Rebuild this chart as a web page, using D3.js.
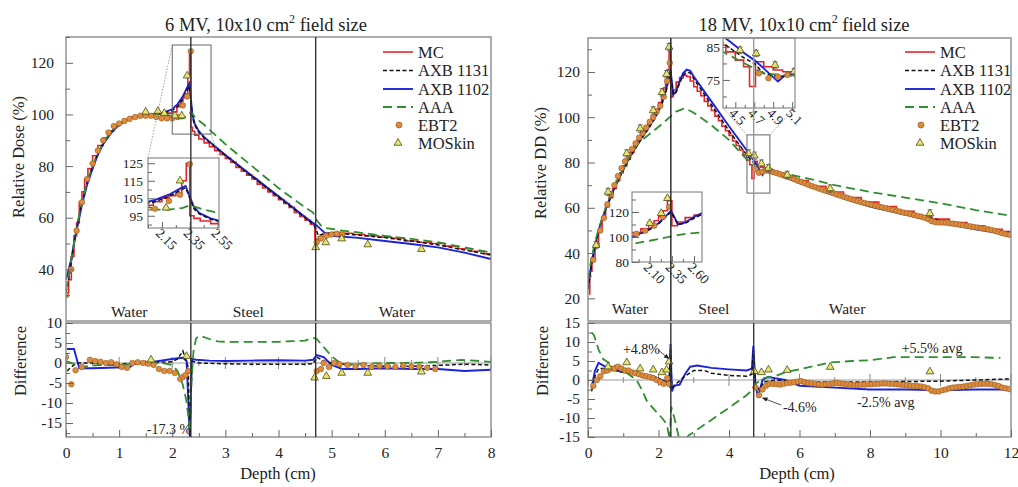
<!DOCTYPE html>
<html lang="en">
<head>
<meta charset="UTF-8">
<title>Depth dose through steel, 6 MV and 18 MV</title>
<script src="https://d3js.org/d3.v7.min.js"></script>
<style>
  body { margin: 0; background: #fff; }
  svg { display: block; font-family: "Liberation Serif", "DejaVu Serif", serif; }
</style>
</head>
<body>
<script>
// ------------------------------------
// Data (depth in cm, value)
// ------------------------------------
const interfaces = [2.35, 4.7];
const legendNames = ["MC", "AXB 1131", "AXB 1102", "AAA", "EBT2", "MOSkin"];

// ---- 6 MV, relative dose ----
const mc6 = [[0.025,31],[0.075,36],[0.125,45],[0.175,53],[0.225,58],[0.275,66],[0.325,70],[0.375,75],[0.45,79],[0.55,84],
  [0.65,88],[0.75,91],[0.85,93.5],[0.95,95.5],[1.05,97],[1.15,98],[1.25,99],[1.35,99.5],[1.45,100],[1.55,100],[1.65,100],
  [1.75,100.2],[1.85,100.2],[1.95,100.5],[2.05,101],[2.125,103],[2.175,105],[2.225,106.5],[2.275,108],[2.31,115],[2.34,125],
  [2.36,95],[2.4,93.5],[2.45,92],[2.55,90.5],[2.65,89],[2.75,87.5],[2.85,86],[2.95,84.5],[3.05,83],[3.15,81.5],[3.25,79.5],
  [3.35,78],[3.45,76.5],[3.55,75],[3.65,73],[3.75,71.5],[3.85,70],[3.95,68.5],[4.05,67],[4.15,65.5],[4.25,64],[4.35,62],
  [4.45,60.5],[4.55,59],[4.65,57.5],[4.72,51.5],[4.78,52.5],[4.85,53.5],[4.95,54],[5.1,54.3],[5.3,54],[5.5,53.5],[5.75,53],
  [6,52.5],[6.25,52],[6.5,51],[6.75,50.5],[7,50],[7.25,49],[7.5,48],[7.75,47],[8,46]];
const axb1131_6 = [[0,31],[0.05,36],[0.1,43],[0.15,50],[0.2,56],[0.3,66],[0.4,74],[0.5,80],[0.6,85],[0.7,89],[0.8,92],
  [0.9,94.5],[1.0,96.3],[1.2,98.5],[1.4,99.5],[1.6,100],[1.8,100.3],[2.0,101.5],[2.1,103],[2.2,106],[2.28,109.5],[2.32,111],
  [2.35,105],[2.38,99],[2.42,96],[2.5,93],[2.6,91],[3.0,84],[3.5,76],[4.0,68],[4.5,60],[4.65,57.5],[4.7,56],[4.75,53],
  [4.85,53.8],[5.0,54.2],[5.5,53.3],[6,52.3],[6.5,51],[7,49.5],[7.5,47.5],[8,45.5]];
const axb1102_6 = [[0,36],[0.05,40],[0.1,44],[0.15,50],[0.2,55],[0.3,65],[0.4,73],[0.5,79],[0.6,84.5],[0.7,88.5],[0.8,91.5],
  [0.9,94],[1.0,96],[1.2,98.3],[1.4,99.5],[1.6,100],[1.8,100.5],[2.0,102],[2.1,104],[2.2,107],[2.28,110.5],[2.32,112],
  [2.35,106],[2.38,100],[2.42,96.5],[2.5,93.5],[2.6,91.2],[3.0,84.3],[3.5,76.3],[4.0,68.3],[4.5,60.3],[4.65,58],[4.72,57],
  [4.8,55.5],[4.9,53.5],[5.1,52.8],[5.5,52.2],[6,51],[6.5,49.8],[7,48.5],[7.5,46.5],[8,44]];
const aaa6 = [[0,32],[0.05,37],[0.1,44],[0.2,56],[0.3,66],[0.4,74],[0.5,80],[0.6,85],[0.7,89],[0.8,92],[0.9,94.5],[1.0,96.3],
  [1.2,98.5],[1.4,99.5],[1.6,100],[1.8,100.2],[2.0,99.5],[2.1,98.5],[2.2,98.5],[2.3,99.5],[2.35,101],[2.45,98.5],[2.6,96],
  [3.0,88.5],[3.5,80],[4.0,71.5],[4.5,64],[4.65,62],[4.72,59],[4.8,57],[4.9,56],[5.2,55],[5.5,54.3],[6,53],[6.5,51.8],
  [7,50.5],[7.5,48.5],[8,46.5]];
const ebt2_6 = [[0,30],[0.1,40],[0.2,55],[0.3,66],[0.4,75],[0.5,81],[0.6,86],[0.7,90],[0.8,93],[0.9,95.5],[1.0,96.5],[1.1,97.5],
  [1.2,98.3],[1.3,99],[1.4,99.5],[1.5,99.5],[1.6,99.5],[1.7,99],[1.8,98.5],[1.9,98.5],[2.0,98.5],[2.1,99],[2.2,103.5],
  [2.28,107],[2.35,124.5],[4.72,50.5],[4.8,52],[4.9,53],[5.0,53.5],[5.1,53.8],[5.2,53.5]];
const mos6 = [[1.5,101],[1.73,101.3],[1.85,100.5],[2.05,99.5],[2.18,99.5],[2.28,115],[4.7,48.5],[4.89,50.4],[5.19,51.9],
  [5.68,49.6],[6.69,47.8]];

// ---- 6 MV, difference (%) ----
const axb1131Diff6 = [[0.02,-2],[0.1,-1],[0.2,0],[0.5,0],[1.0,-0.2],[1.5,0],[2.0,0.3],[2.1,1],[2.2,3],[2.25,1],[2.3,-1],
  [2.33,-18.5],[2.37,0.5],[2.5,0],[3.0,-0.2],[3.5,-0.3],[4.0,-0.3],[4.5,-0.3],[4.65,-0.2],[4.72,1.5],[4.85,0.5],[5.0,0],
  [5.5,-0.6],[6,-0.8],[6.5,-0.8],[7,-0.6],[7.5,-0.3],[8,-0.5]];
const axb1102Diff6 = [[0.02,3.5],[0.15,3.5],[0.25,-1.3],[0.5,-1.3],[0.8,-1.2],[1.2,-1],[1.3,0],[1.6,0.2],[1.9,0.8],[2.1,1.2],
  [2.2,1.3],[2.27,0.5],[2.33,-18.5],[2.37,1],[2.45,0.8],[2.7,0.6],[3.0,0.5],[3.5,0.6],[4.0,0.7],[4.5,0.6],[4.65,0.8],[4.72,2],
  [4.85,1.5],[5.0,-0.5],[5.2,-1.5],[5.5,-1.5],[6,-1.3],[6.5,-1.5],[7,-1.5],[7.5,-2],[8,-1.7]];
const aaaDiff6 = [[0,0.5],[0.3,-1],[0.6,-0.5],[1.0,-0.5],[1.5,0],[1.8,0],[2.0,-0.5],[2.1,-2],[2.2,-5.5],[2.26,-9],[2.3,-13],
  [2.33,-17.3],[2.36,-5],[2.4,3],[2.45,6.2],[2.52,6.8],[2.7,6],[2.85,5.4],[3.0,5.3],[3.5,5.3],[4.0,5.3],[4.5,5.6],[4.65,6.3],
  [4.72,6],[4.85,4],[5.0,1.7],[5.2,-0.4],[5.5,-0.2],[6,0],[6.5,0],[7,0.3],[7.45,0.8],[8,0.3]];
const ebt2Diff6 = [[0,1.5],[0.1,-5.3],[0.18,-1.8],[0.3,-1],[0.45,0.8],[0.55,0.5],[0.65,0.3],[0.75,0],[0.85,0.2],[0.95,-0.3],
  [1.05,-1],[1.15,-1.2],[1.25,0],[1.35,0.2],[1.45,0],[1.55,-0.2],[1.65,-0.5],[1.75,-1.5],[1.85,-2],[1.95,-2],[2.05,-2.5],
  [2.15,-4],[2.2,-3.5],[2.25,-3],[2.3,-2],[4.72,-2],[4.8,-1.5],[4.85,0],[4.95,-1],[5.05,0],[5.15,-0.3],[5.3,-0.5],
  [5.45,-0.8],[5.6,-0.5],[5.75,-1],[5.9,-0.7],[6.05,-0.8],[6.2,-1],[6.35,-0.6],[6.5,-0.9],[6.65,-1],[6.8,-1.2],[6.95,-1.5]];
const mosDiff6 = [[1.6,0.8],[2.27,1.7],[4.68,-3.7],[4.9,-3.3],[5.19,-2.5],[5.68,-2.5],[6.69,-2.2]];

// ---- 18 MV, relative depth dose ----
const mc18 = [[0.025,22],[0.075,32],[0.15,38],[0.25,44],[0.35,50],[0.45,55.5],[0.55,60.5],[0.65,64.5],[0.75,68.5],[0.85,72],
  [0.95,75.5],[1.05,78.5],[1.15,81.5],[1.25,84.5],[1.35,87.5],[1.45,90],[1.55,92.5],[1.65,95],[1.75,98],[1.85,100.5],
  [1.95,103.5],[2.05,106.5],[2.125,110],[2.175,113],[2.225,116.5],[2.275,121],[2.325,129],
  [2.375,109],[2.45,112],[2.55,115.5],[2.65,117.5],[2.75,118.5],[2.85,118],[2.95,116],[3.05,113.5],[3.15,111.5],[3.25,109.5],
  [3.35,107],[3.45,105],[3.55,103],[3.65,100.5],[3.75,98.5],[3.85,96],[3.95,94],[4.05,92],[4.15,89.5],[4.25,87.5],
  [4.35,85.5],[4.45,83.5],[4.55,81],[4.625,79],[4.675,73],
  [4.75,80.5],[4.85,79],[4.95,78],[5.05,77.5],[5.15,77],[5.3,76],[5.5,75],[5.75,73.5],[6,72],[6.5,69.5],[7,67],[7.5,64.5],
  [8,62.5],[8.5,60.5],[9,58.5],[9.5,56.5],[10,55],[10.5,53.5],[11,52],[11.5,50.5],[12,49.5]];
const axb1131_18 = [[0,24],[0.05,29],[0.1,35],[0.2,42.5],[0.3,49.5],[0.4,55],[0.55,61],[0.7,66.5],[0.9,73.5],[1.1,79.5],
  [1.3,85],[1.5,90],[1.7,94.5],[1.9,99.5],[2.0,102.5],[2.1,106],[2.2,110.5],[2.28,116],[2.34,120],[2.37,116],[2.42,110],
  [2.5,111],[2.6,115],[2.7,118.5],[2.8,120],[2.9,119.5],[3.0,117],[3.5,105.5],[4.0,94],[4.45,84.5],[4.6,81.5],[4.7,80],
  [4.8,77],[4.95,76],[5.1,76.5],[5.5,74.5],[6,71.5],[7,66.5],[8,62],[9,58],[10,54.5],[11,51.5],[12,49]];
const axb1102_18 = [[0,25],[0.05,30],[0.1,36],[0.2,43],[0.3,50],[0.4,55],[0.55,61.5],[0.7,67],[0.9,74],[1.1,80],[1.3,85.5],
  [1.5,90.5],[1.7,95],[1.9,100],[2.0,103],[2.1,106.5],[2.2,111],[2.28,116.5],[2.34,121],[2.37,117],[2.42,110],[2.5,111.5],
  [2.6,116],[2.7,119.5],[2.8,121],[2.9,120.5],[3.0,118],[3.5,107],[4.0,96],[4.45,86.5],[4.6,83],[4.7,81],[4.8,78.5],
  [4.95,74.5],[5.05,77],[5.2,76.5],[5.5,74],[6,71],[7,65.5],[8,60.5],[9,57],[10,53.5],[11,50.5],[12,48]];
const aaa18 = [[0,28],[0.1,38],[0.2,45],[0.3,50.5],[0.5,60],[0.7,67.5],[0.9,74.5],[1.1,80],[1.3,86],[1.5,89.5],[1.7,92],
  [1.9,94.5],[2.1,97],[2.35,100.5],[2.5,102.5],[2.75,104],[3.0,102],[3.5,96.5],[4.0,90],[4.4,83],[4.6,80],[4.7,78.5],
  [4.8,77],[5.0,76.5],[5.65,75],[6.5,72],[7,70],[8,67],[9,64.5],[9.6,63],[10,62],[11,59],[12,56.5]];
const ebt2_18 = [[0.15,37],[0.25,43.5],[0.35,50],[0.45,55.5],[0.55,61.5],[0.65,66],[0.75,70],[0.85,74],[0.95,77.5],
  [1.05,80.5],[1.15,83.5],[1.25,86],[1.35,88.5],[1.45,91],[1.55,93],[1.65,95.5],[1.75,98],[1.85,100],[1.95,102.5],
  [2.05,105],[2.15,109],[2.25,116],[2.32,124],
  [4.75,77],[4.85,75.5],[4.95,76],[5.05,76.5],[5.15,76.2],[5.25,75.8],[5.35,75.3],[5.45,74.8],[5.55,74.3],[5.65,73.8],
  [5.75,73.3],[5.85,72.6],[5.95,72],[6.05,71.4],[6.15,70.8],[6.25,70.2],[6.35,69.6],[6.45,69.1],[6.55,68.5],[6.65,68],
  [6.75,67.5],[6.85,67],[6.95,66.5],[7.05,65.9],[7.15,65.4],[7.25,64.9],[7.35,64.4],[7.45,63.9],[7.55,63.4],[7.65,62.9],
  [7.75,62.5],[7.85,62.1],[7.95,61.7],[8.05,61.3],[8.15,60.9],[8.25,60.5],[8.35,60.2],[8.45,59.8],[8.55,59.4],[8.65,59.1],
  [8.75,58.7],[8.85,58.3],[8.95,57.9],[9.05,57.6],[9.15,57.2],[9.25,56.8],[9.35,56.4],[9.45,56.1],[9.55,55.6],[9.65,55],
  [9.75,54.1],[9.85,53.6],[9.95,53.5],[10.05,53.5],[10.15,53.4],[10.25,53.2],[10.35,53],[10.45,52.8],[10.55,52.5],
  [10.65,52.3],[10.75,52],[10.85,51.8],[10.95,51.5],[11.05,51.3],[11.15,51],[11.25,50.8],[11.35,50.5],[11.45,50.2],
  [11.55,49.8],[11.65,49.3],[11.75,48.8],[11.85,48.4],[11.95,48.1]];
const mos18 = [[0.23,43.5],[0.57,67],[1.1,84],[1.48,95],[1.85,103],[2.1,111],[2.23,119],[2.3,131],[4.55,84],[4.72,83],
  [4.92,79.5],[5.12,77.5],[5.65,74.5],[6.87,68.5],[9.7,57.5]];

// ---- 18 MV, difference (%) ----
const axb1131Diff18 = [[0.1,-3],[0.2,1],[0.3,3],[0.6,3],[1.0,2],[1.5,1.5],[2.0,0.5],[2.3,-1],[2.34,8],[2.38,-2],[2.5,-1],
  [2.75,1],[3.0,2.5],[3.3,2.5],[3.5,1.8],[4.0,1.2],[4.5,1],[4.65,1.5],[4.69,8],[4.75,-1],[4.85,-2.5],[5.0,-0.5],[5.3,0],
  [6,-0.5],[7,-0.5],[8,-0.5],[9,-0.4],[10,-0.3],[11,0],[12,0.3]];
const axb1102Diff18 = [[0.1,-2],[0.2,2.5],[0.3,4.5],[0.4,4],[0.6,3],[0.9,2.3],[1.2,1.8],[1.5,1.5],[1.85,1],[2.1,0],
  [2.25,-0.5],[2.31,-1.5],[2.34,9.5],[2.38,-3],[2.45,-1.5],[2.6,-1.2],[2.75,1.5],[2.9,3.5],[3.1,3.8],[3.5,3.2],[4.0,2.8],
  [4.5,2.5],[4.65,3],[4.69,9],[4.75,-1],[4.82,-4.6],[4.95,0],[5.1,0.8],[5.3,0.5],[5.6,0],[6,-1.5],[7,-2],[8,-2.5],[9,-2.5],
  [10,-2.7],[11,-2.5],[12,-2.5]];
const aaaDiff18 = [[0.1,12.5],[0.17,11.8],[0.3,8],[0.43,5.5],[0.6,4.5],[0.9,3.2],[1.15,1.5],[1.38,0],[1.55,-3],[1.67,-5.5],
  [1.9,-8],[2.1,-10],[2.24,-11.7],[2.32,-16],[2.36,-7],[2.45,-10],[2.55,-14],[2.62,-17],[2.75,-17],[2.84,-14.7],[3.5,-10.5],
  [4.0,-7.3],[4.5,-4],[4.65,-2.7],[4.75,-1],[5.0,0.5],[5.3,1],[5.65,2.2],[6,2.8],[6.87,4.6],[7.5,5],[8,5.2],[8.67,6],[9,6],
  [10,6],[11,6],[11.7,5.8]];
const ebt2Diff18 = [[0.15,-1.5],[0.25,0],[0.35,1],[0.45,2.3],[0.55,2.5],[0.65,3],[0.75,3],[0.85,3.5],[0.95,3],[1.05,2.5],
  [1.15,2.5],[1.25,2],[1.35,1.8],[1.45,1.5],[1.55,1.2],[1.65,1],[1.75,0.8],[1.85,0.5],[1.95,0],[2.05,-0.5],[2.15,-1],
  [2.25,0.5],[2.3,-1],
  [4.75,-2],[4.85,-4],[4.95,-2.5],[5.05,-1.5],[5.15,-1],[5.25,-1],[5.35,-1.1],[5.45,-1.2],[5.55,-1],[5.65,-0.8],[5.75,-0.7],
  [5.85,-0.6],[5.95,-0.4],[6.05,-0.3],[6.15,-0.6],[6.25,-0.8],[6.35,-0.9],[6.45,-1],[6.55,-1.1],[6.65,-1.2],[6.75,-1.1],
  [6.85,-1],[6.95,-0.9],[7.05,-0.8],[7.15,-0.9],[7.25,-1],[7.35,-1.1],[7.45,-1.2],[7.55,-1.3],[7.65,-1.3],[7.75,-1.2],
  [7.85,-1.2],[7.95,-1.1],[8.05,-1.1],[8.15,-1],[8.25,-1],[8.35,-0.9],[8.45,-0.9],[8.55,-1],[8.65,-1],[8.75,-1.1],
  [8.85,-1.2],[8.95,-1.3],[9.05,-1.4],[9.15,-1.5],[9.25,-1.5],[9.35,-1.6],[9.45,-1.7],[9.55,-1.9],[9.65,-2.2],[9.75,-2.8],
  [9.85,-3],[9.95,-3],[10.05,-2.7],[10.15,-2.5],[10.25,-2.2],[10.35,-2],[10.45,-1.9],[10.55,-1.8],[10.65,-1.7],[10.75,-1.5],
  [10.85,-1.4],[10.95,-1.2],[11.05,-1.1],[11.15,-1],[11.25,-1],[11.35,-1],[11.45,-1.1],[11.55,-1.3],[11.65,-1.6],
  [11.75,-2],[11.85,-2.2],[11.95,-2.4]];
const mosDiff18 = [[0.57,3.5],[1.1,4.6],[1.48,3],[1.85,2.7],[2.1,2],[2.23,2.7],[2.3,4.8],[4.72,2.3],[4.92,2],[5.12,2.7],
  [5.65,2.6],[6.87,3.4],[9.7,2.2]];

// ------------------------------------
// Styles
// ------------------------------------
const SERIES = [
  { key: "mc",      color: "#e3262b", width: 1.6, dash: null,    step: true },
  { key: "axb1102", color: "#1d23d8", width: 1.9, dash: null },
  { key: "axb1131", color: "#111111", width: 1.5, dash: "4,2.5" },
  { key: "aaa",     color: "#2f8f2f", width: 1.8, dash: "9,5" }
];
const EBT = { fill: "#e08b3a", stroke: "#8f5a25" };
const MOS = { fill: "#e9e46c", stroke: "#4b4b1e" };
const FRAME = "#8a8a8a";

const svg = d3.select("body").append("svg").attr("width", 1018).attr("height", 487);
const defs = svg.append("defs");
defs.append("marker").attr("id", "arrow").attr("viewBox", "0 0 10 10")
  .attr("refX", 9).attr("refY", 5).attr("markerWidth", 7).attr("markerHeight", 7).attr("orient", "auto")
  .append("path").attr("d", "M0,1 L10,5 L0,9 z").attr("fill", "#222");

function addClip(id, x, y, w, h) {
  defs.append("clipPath").attr("id", id).append("rect").attr("x", x).attr("y", y).attr("width", w).attr("height", h);
}

const tri = d3.symbol(d3.symbolTriangle, 26);

function plotSet(g, x, y, set, errBar) {
  SERIES.forEach(s => {
    if (!set[s.key]) return;
    g.append("path").datum(set[s.key])
      .attr("fill", "none").attr("stroke", s.color).attr("stroke-width", s.width)
      .attr("stroke-dasharray", s.dash)
      .attr("d", d3.line().x(d => x(d[0])).y(d => y(d[1])).curve(s.step ? d3.curveStep : d3.curveLinear));
  });
  if (set.ebt2) {
    g.selectAll(null).data(set.ebt2).enter().append("circle")
      .attr("cx", d => x(d[0])).attr("cy", d => y(d[1])).attr("r", 2.8)
      .attr("fill", EBT.fill).attr("stroke", EBT.stroke).attr("stroke-width", 0.6);
  }
  if (set.mos) {
    if (errBar) {
      const eb = g.selectAll(null).data(set.mos).enter().append("g").attr("stroke", "#555").attr("stroke-width", 0.8);
      eb.append("line").attr("x1", d => x(d[0])).attr("x2", d => x(d[0]))
        .attr("y1", d => y(d[1] - errBar)).attr("y2", d => y(d[1] + errBar));
      eb.append("line").attr("x1", d => x(d[0]) - 2.5).attr("x2", d => x(d[0]) + 2.5)
        .attr("y1", d => y(d[1] + errBar)).attr("y2", d => y(d[1] + errBar));
      eb.append("line").attr("x1", d => x(d[0]) - 2.5).attr("x2", d => x(d[0]) + 2.5)
        .attr("y1", d => y(d[1] - errBar)).attr("y2", d => y(d[1] - errBar));
    }
    g.selectAll(null).data(set.mos).enter().append("path")
      .attr("d", tri).attr("transform", d => `translate(${x(d[0])},${y(d[1])})`)
      .attr("fill", MOS.fill).attr("stroke", MOS.stroke).attr("stroke-width", 0.8);
  }
}

function styleAxis(a, size) {
  a.attr("font-family", null).attr("font-size", size);
  a.select(".domain").remove();
  a.selectAll("line").attr("stroke", "#666");
  a.selectAll("text").attr("fill", "#222");
}

function yAxis(scale, xPos, major, minor, pad, size, fmt) {
  const a = svg.append("g").attr("transform", `translate(${xPos},0)`)
    .call(d3.axisLeft(scale).tickValues(major).tickSize(-7).tickPadding(pad).tickFormat(fmt || (d => String(d))));
  styleAxis(a, size);
  const b = svg.append("g").attr("transform", `translate(${xPos},0)`)
    .call(d3.axisLeft(scale).tickValues(minor).tickSize(-4).tickFormat(""));
  styleAxis(b, size);
}

function xAxis(scale, yPos, major, minor, pad, size) {
  const a = svg.append("g").attr("transform", `translate(0,${yPos})`)
    .call(d3.axisBottom(scale).tickValues(major).tickSize(-7).tickPadding(pad).tickFormat(d => String(d)));
  styleAxis(a, size);
  const b = svg.append("g").attr("transform", `translate(0,${yPos})`)
    .call(d3.axisBottom(scale).tickValues(minor).tickSize(-4).tickFormat(""));
  styleAxis(b, size);
}

function drawInset(p, ins, id) {
  const xi = d3.scaleLinear().domain(ins.xDom).range([ins.x0, ins.x1]);
  const yi = d3.scaleLinear().domain(ins.yDom).range([ins.y1, ins.y0]);
  svg.append("rect").attr("x", ins.x0).attr("y", ins.y0).attr("width", ins.x1 - ins.x0).attr("height", ins.y1 - ins.y0)
    .attr("fill", "#fff");
  addClip(id, ins.x0, ins.y0, ins.x1 - ins.x0, ins.y1 - ins.y0);
  const g = svg.append("g").attr("clip-path", `url(#${id})`);
  plotSet(g, xi, yi, p.main, p.errBar ? p.errBar * 0.6 : 0);
  svg.append("rect").attr("x", ins.x0).attr("y", ins.y0).attr("width", ins.x1 - ins.x0).attr("height", ins.y1 - ins.y0)
    .attr("fill", "none").attr("stroke", FRAME).attr("stroke-width", 1.2);
  yAxis(yi, ins.x0, ins.yTicks, ins.yMinor, ins.yPad, 13.5);
  // bottom ticks, labels rotated
  const a = svg.append("g").attr("transform", `translate(0,${ins.y1})`)
    .call(d3.axisBottom(xi).tickValues(ins.xTicks).tickSize(-6).tickFormat(""));
  styleAxis(a, 13);
  const b = svg.append("g").attr("transform", `translate(0,${ins.y1})`)
    .call(d3.axisBottom(xi).tickValues(ins.xMinor).tickSize(-3).tickFormat(""));
  styleAxis(b, 13);
  ins.xTicks.forEach(t => {
    svg.append("text").attr("transform", `translate(${xi(t) - 7},${ins.y1 + 6}) rotate(45)`)
      .attr("font-size", 13.5).attr("fill", "#222").text(d3.format(ins.fmt)(t));
  });
}

// ------------------------------------
// Panel
// ------------------------------------
function drawPanel(p) {
  const x = d3.scaleLinear().domain(p.xDom).range([p.left, p.right]);
  const y = d3.scaleLinear().domain(p.yDom).range([p.mainBottom, p.top]);
  const yd = d3.scaleLinear().domain(p.dDom).range([p.diffBottom, p.diffTop]);
  const W = p.right - p.left;

  addClip(p.id + "-main", p.left, p.top, W, p.mainBottom - p.top);
  addClip(p.id + "-diff", p.left, p.diffTop, W, p.diffBottom - p.diffTop);

  // zero line with small ticks in the difference panel
  svg.append("line").attr("x1", p.left).attr("x2", p.right).attr("y1", yd(0)).attr("y2", yd(0))
    .attr("stroke", "#9a9a9a").attr("stroke-width", 1);
  p.xMajor.forEach(t => svg.append("line").attr("x1", x(t)).attr("x2", x(t))
    .attr("y1", yd(0) - 6).attr("y2", yd(0) + 6).attr("stroke", "#888"));
  p.xMinor.forEach(t => svg.append("line").attr("x1", x(t)).attr("x2", x(t))
    .attr("y1", yd(0) - 3).attr("y2", yd(0) + 3).attr("stroke", "#888"));

  const gm = svg.append("g").attr("clip-path", `url(#${p.id}-main)`);
  plotSet(gm, x, y, p.main, p.errBar);
  const gd = svg.append("g").attr("clip-path", `url(#${p.id}-diff)`);
  plotSet(gd, x, yd, p.diff, 0);

  // zoom box and connectors
  if (p.zoomBox) {
    const z = p.zoomBox;
    svg.append("rect").attr("x", x(z.x[0])).attr("y", y(z.y[1]))
      .attr("width", x(z.x[1]) - x(z.x[0])).attr("height", y(z.y[0]) - y(z.y[1]))
      .attr("fill", "none").attr("stroke", "#666").attr("stroke-width", 1);
    z.links.forEach(l => svg.append("line")
      .attr("x1", x(l[0])).attr("y1", y(l[1])).attr("x2", l[2]).attr("y2", l[3])
      .attr("stroke", "#888").attr("stroke-width", 0.8).attr("stroke-dasharray", "1.5,1.5"));
  }

  p.insets.forEach((ins, i) => drawInset(p, ins, p.id + "-inset" + i));

  // frames
  svg.append("rect").attr("x", p.left).attr("y", p.top).attr("width", W).attr("height", p.mainBottom - p.top)
    .attr("fill", "none").attr("stroke", FRAME).attr("stroke-width", 1.4);
  svg.append("rect").attr("x", p.left).attr("y", p.diffTop).attr("width", W).attr("height", p.diffBottom - p.diffTop)
    .attr("fill", "none").attr("stroke", FRAME).attr("stroke-width", 1.4);

  // material interfaces
  interfaces.forEach((d, i) => {
    svg.append("line").attr("x1", x(d)).attr("x2", x(d)).attr("y1", p.top).attr("y2", p.mainBottom)
      .attr("stroke", p.lineColors[i]).attr("stroke-width", 1.4);
    svg.append("line").attr("x1", x(d)).attr("x2", x(d)).attr("y1", p.diffTop).attr("y2", p.diffBottom)
      .attr("stroke", "#333").attr("stroke-width", 1.4);
  });

  // axes
  yAxis(y, p.left, p.yMajor, p.yMinor, p.yPad, 15.5);
  yAxis(yd, p.left, p.dMajor, p.dMinor, p.dPad, 15.5);
  xAxis(x, p.diffBottom, p.xMajor, p.xMinor, 10, 15.5);

  // material names
  p.materials.forEach(m => svg.append("text").attr("x", x(m.at)).attr("y", p.matY)
    .attr("text-anchor", "middle").attr("font-size", 15.5).attr("fill", "#222").text(m.name));

  // titles and axis labels
  const t = svg.append("text").attr("x", p.titleX).attr("y", 31).attr("text-anchor", "middle")
    .attr("font-size", 18.5).attr("fill", "#222");
  t.append("tspan").text(p.title);
  t.append("tspan").attr("dy", -8).attr("font-size", 12).text("2");
  t.append("tspan").attr("dy", 8).text(" field size");

  svg.append("text").attr("transform", `translate(${p.yLabelX},${p.yLabelY}) rotate(-90)`)
    .attr("text-anchor", "middle").attr("font-size", 16.5).attr("fill", "#222").text(p.yLabel);
  svg.append("text").attr("transform", `translate(${p.yLabelX + 2},361) rotate(-90)`)
    .attr("text-anchor", "middle").attr("font-size", 16.5).attr("fill", "#222").text("Difference");
  svg.append("text").attr("x", p.xLabelX).attr("y", 479).attr("text-anchor", "middle")
    .attr("font-size", 16.5).attr("fill", "#222").text("Depth (cm)");

  // legend
  const rows = [52, 70.5, 89, 107, 125, 143];
  const keys = ["mc", "axb1131", "axb1102", "aaa"];
  keys.forEach((k, i) => {
    const s = SERIES.find(d => d.key === k);
    svg.append("line").attr("x1", p.legX).attr("x2", p.legX + 30).attr("y1", rows[i]).attr("y2", rows[i])
      .attr("stroke", s.color).attr("stroke-width", s.width).attr("stroke-dasharray", s.dash);
  });
  svg.append("circle").attr("cx", p.legX + 16).attr("cy", rows[4]).attr("r", 3)
    .attr("fill", EBT.fill).attr("stroke", EBT.stroke).attr("stroke-width", 0.7);
  svg.append("path").attr("d", tri).attr("transform", `translate(${p.legX + 15},${rows[5]})`)
    .attr("fill", MOS.fill).attr("stroke", MOS.stroke).attr("stroke-width", 0.8);
  legendNames.forEach((n, i) => svg.append("text").attr("x", p.legX + 35).attr("y", rows[i] + 5.5)
    .attr("font-size", 16.5).attr("fill", "#222").text(n));

  // annotations
  p.notes.forEach(n => {
    svg.append("text").attr("x", x(n.at[0])).attr("y", yd(n.at[1])).attr("font-size", 14).attr("fill", "#222").text(n.text);
    if (n.arrow) {
      svg.append("line").attr("x1", x(n.arrow[0])).attr("y1", yd(n.arrow[1]))
        .attr("x2", x(n.arrow[2])).attr("y2", yd(n.arrow[3]))
        .attr("stroke", "#222").attr("stroke-width", 0.8).attr("marker-end", "url(#arrow)");
    }
  });
}

drawPanel({
  id: "mv6", left: 66, right: 491, top: 37, mainBottom: 321, diffTop: 323, diffBottom: 437,
  xDom: [0, 8], yDom: [20, 130], dDom: [-18.5, 10],
  main: { mc: mc6, axb1131: axb1131_6, axb1102: axb1102_6, aaa: aaa6, ebt2: ebt2_6, mos: mos6 },
  diff: { axb1131: axb1131Diff6, axb1102: axb1102Diff6, aaa: aaaDiff6, ebt2: ebt2Diff6, mos: mosDiff6 },
  errBar: 0,
  yMajor: [40, 60, 80, 100, 120], yMinor: [30, 50, 70, 90, 110, 130], yPad: 12,
  dMajor: [-15, -10, -5, 0, 5, 10], dMinor: [-17.5, -12.5, -7.5, -2.5, 2.5, 7.5], dPad: 4,
  xMajor: [0, 1, 2, 3, 4, 5, 6, 7, 8], xMinor: [0.5, 1.5, 2.5, 3.5, 4.5, 5.5, 6.5, 7.5],
  lineColors: ["#333", "#333"],
  materials: [{ name: "Water", at: 1.19 }, { name: "Steel", at: 3.43 }, { name: "Water", at: 6.23 }], matY: 317,
  title: "6 MV, 10x10 cm", titleX: 266,
  yLabel: "Relative Dose (%)", yLabelX: 24, yLabelY: 157, xLabelX: 278,
  legX: 383,
  zoomBox: { x: [2.0, 2.73], y: [92.4, 126.9], links: [[2.0, 126.9, 148, 158], [2.73, 92.4, 219, 158]] },
  insets: [{ x0: 148, x1: 219, y0: 158, y1: 228, xDom: [2.05, 2.56], yDom: [88, 128],
    yTicks: [95, 105, 115, 125], yMinor: [90, 100, 110, 120], yPad: 5,
    xTicks: [2.15, 2.35, 2.55], xMinor: [2.05, 2.25, 2.45], fmt: ".2f" }],
  notes: [{ text: "-17.3 %", at: [1.52, -17.8] }]
});

drawPanel({
  id: "mv18", left: 588, right: 1011, top: 38, mainBottom: 321, diffTop: 323, diffBottom: 437,
  xDom: [0, 12], yDom: [10, 135], dDom: [-15, 15],
  main: { mc: mc18, axb1131: axb1131_18, axb1102: axb1102_18, aaa: aaa18, ebt2: ebt2_18, mos: mos18 },
  diff: { axb1131: axb1131Diff18, axb1102: axb1102Diff18, aaa: aaaDiff18, ebt2: ebt2Diff18, mos: mosDiff18 },
  errBar: 1.6,
  yMajor: [20, 40, 60, 80, 100, 120], yMinor: [30, 50, 70, 90, 110, 130], yPad: 8,
  dMajor: [-15, -10, -5, 0, 5, 10, 15], dMinor: [-12.5, -7.5, -2.5, 2.5, 7.5, 12.5], dPad: 8,
  xMajor: [0, 2, 4, 6, 8, 10, 12], xMinor: [1, 3, 5, 7, 9, 11],
  lineColors: ["#222", "#999"],
  materials: [{ name: "Water", at: 1.19 }, { name: "Steel", at: 3.57 }, { name: "Water", at: 7.35 }], matY: 314,
  title: "18 MV, 10x10 cm", titleX: 804,
  yLabel: "Relative DD (%)", yLabelX: 546, yLabelY: 163, xLabelX: 797,
  legX: 905,
  zoomBox: { x: [4.51, 5.16], y: [66.5, 92.2], links: [[4.51, 92.2, 723, 108], [5.16, 92.2, 795, 108]] },
  insets: [
    { x0: 632, x1: 702, y0: 192, y1: 262, xDom: [1.9, 2.69], yDom: [80, 136],
      yTicks: [80, 100, 120], yMinor: [90, 110, 130], yPad: 3,
      xTicks: [2.10, 2.35, 2.60], xMinor: [1.975, 2.225, 2.475], fmt: ".2f" },
    { x0: 723, x1: 795, y0: 38, y1: 108, xDom: [4.37, 5.13], yDom: [66.5, 87.7],
      yTicks: [75, 85], yMinor: [70, 80], yPad: 3,
      xTicks: [4.5, 4.7, 4.9, 5.1], xMinor: [4.4, 4.6, 4.8, 5.0], fmt: ".1f" }
  ],
  notes: [
    { text: "+4.8%", at: [0.99, 6.8], arrow: [1.99, 7.9, 2.3, 5.6] },
    { text: "-4.6%", at: [5.53, -8.4], arrow: [5.48, -6.6, 4.95, -4.7] },
    { text: "-2.5% avg", at: [7.63, -7.1] },
    { text: "+5.5% avg", at: [8.9, 7.1] }
  ]
});
</script>
</body>
</html>
